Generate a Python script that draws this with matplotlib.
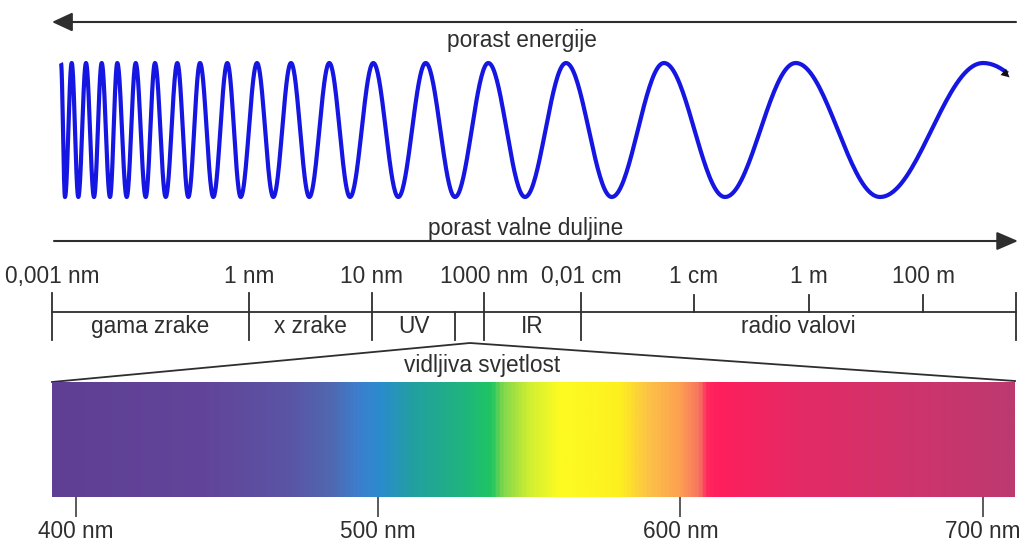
import numpy as np
import matplotlib
matplotlib.use("Agg")
import matplotlib.pyplot as plt
from matplotlib.colors import LinearSegmentedColormap

plt.rcParams['font.family'] = ['Liberation Sans', 'DejaVu Sans']

# texts
energy_label = 'porast energije'
wavelength_label = 'porast valne duljine'
visible_label = 'vidljiva svjetlost'

# schematic wavelength scale (not to scale in the original drawing)
scale_ticks = [52, 249, 372, 484, 581, 694, 809, 923, 1016]
scale_labels = ['0,001 nm', '1 nm', '10 nm', '1000 nm', '0,01 cm', '1 cm', '1 m', '100 m', '']
scale_major = [True, True, True, True, True, False, False, False, True]

band_edges = [52, 249, 372, 455, 484, 581, 1016]
band_names = ['gama zrake', 'x zrake', 'UV', '', 'IR', 'radio valovi']

# x positions of the wave crests/troughs (alternating, starting with a crest)
wave_extrema = [61, 65, 71.7, 78.3, 86, 94, 101.7, 110, 117.3, 126.7, 135.7,
                145.7, 155, 165.7, 177.3, 188.3, 200, 213.3, 227.3, 240.7,
                257, 273.3, 291, 309.3, 329.3, 350, 373.3, 398.3, 425.7, 455,
                488.3, 525, 566, 611.7, 664, 725, 795.7, 880, 983, 1120]
wave_end = 1008

# visible spectrum colour stops (nm -> colour)
spec_nm = [392.2, 441, 471, 484, 494, 500.7, 511.6, 528, 537.7, 541, 550,
           560, 580, 589, 600, 606.5, 609, 612, 639.6, 672.7, 710.6]
spec_colors = ['#5e3f93', '#62449a', '#5a55a5', '#5068b0', '#3a80d0', '#2a8ccc',
               '#22a0a0', '#20b47f', '#1fc662', '#7ed64e', '#d0ef32', '#fdfb22',
               '#fdf01f', '#fdc445', '#fca052', '#f77460', '#ff2a5e', '#ff1f5c',
               '#e42a66', '#d0336b', '#bc3a70']
spec_ticks = [400, 500, 600, 700]

W, H = 1032, 544
ink = '#2e2e2e'
fs = 16.3

fig = plt.figure(figsize=(W / 100, H / 100), dpi=100)
ax = fig.add_axes([0, 0, 1, 1])
ax.set_xlim(0, W)
ax.set_ylim(H, 0)
ax.axis('off')

# energy arrow (points left) and wavelength arrow (points right)
ax.annotate('', xy=(52, 22), xytext=(1016, 22),
            arrowprops=dict(arrowstyle='-|>,head_length=12.5,head_width=5.8',
                            mutation_scale=1, color=ink, lw=1.5,
                            shrinkA=0, shrinkB=0))
ax.text(522, 47.5, energy_label, ha='center', va='baseline', fontsize=fs, color=ink)

ax.annotate('', xy=(1018, 241), xytext=(54, 241),
            arrowprops=dict(arrowstyle='-|>,head_length=13,head_width=5.6',
                            mutation_scale=1, color=ink, lw=1.5,
                            shrinkA=0, shrinkB=0))
ax.text(525.5, 235, wavelength_label, ha='center', va='baseline', fontsize=fs, color=ink)

# chirped wave built from the crest/trough positions
mid, amp = 130, 67
xs, ys = [], []
for i in range(len(wave_extrema) - 1):
    x0, x1 = wave_extrema[i], wave_extrema[i + 1]
    sign = -1 if i % 2 == 0 else 1   # crest = up (smaller y)
    t = np.linspace(0, 1, 40)
    xx = x0 + (x1 - x0) * t
    yy = mid + sign * amp * np.cos(np.pi * t)
    xs.extend(xx)
    ys.extend(yy)
xs = np.array(xs)
ys = np.array(ys)
keep = xs <= wave_end
xs, ys = xs[keep], ys[keep]
ax.plot(xs, ys, color='#1616e2', lw=3.0, solid_capstyle='butt', solid_joinstyle='round')
ax.annotate('', xy=(xs[-1] + 2, ys[-1] + 4), xytext=(xs[-4], ys[-4]),
            arrowprops=dict(arrowstyle='-|>,head_length=6,head_width=3',
                            mutation_scale=1, color='#111111', lw=0,
                            shrinkA=0, shrinkB=0))

# wavelength scale bar
ax.plot([scale_ticks[0], scale_ticks[-1]], [312, 312], color=ink, lw=1.3)
for x, lab, major in zip(scale_ticks, scale_labels, scale_major):
    y0, y1 = (293, 340) if major else (295, 312)
    ax.plot([x, x], [y0, y1], color=ink, lw=1.3)
    if lab:
        ax.text(x, 283, lab, ha='center', va='baseline', fontsize=fs, color=ink)
ax.plot([band_edges[3], band_edges[3]], [312, 340], color=ink, lw=1.3)
for a, b, name in zip(band_edges[:-1], band_edges[1:], band_names):
    if name:
        ax.text((a + b) / 2, 333, name, ha='center', va='baseline', fontsize=fs, color=ink)

# funnel to the visible spectrum
ax.plot([52, 470, 1015], [382, 343, 381], color=ink, lw=1.3)
ax.text(482, 372, visible_label, ha='center', va='baseline', fontsize=fs, color=ink)

# visible spectrum strip
left, right, top, bottom = 52, 1015, 382, 497
sax = fig.add_axes([left / W, 1 - bottom / H, (right - left) / W, (bottom - top) / H])
pos = (np.array(spec_nm) - spec_nm[0]) / (spec_nm[-1] - spec_nm[0])
cmap = LinearSegmentedColormap.from_list('vis', list(zip(pos, spec_colors)))
grad = np.linspace(spec_nm[0], spec_nm[-1], 1200).reshape(1, -1)
sax.imshow(grad, cmap=cmap, aspect='auto',
           extent=[spec_nm[0], spec_nm[-1], 0, 1], interpolation='bilinear')
sax.set_xlim(spec_nm[0], spec_nm[-1])
sax.set_ylim(0, 1)
for s in sax.spines.values():
    s.set_visible(False)
sax.set_yticks([])
sax.set_xticks(spec_ticks)
sax.set_xticklabels([f'{v} nm' for v in spec_ticks])
sax.tick_params(axis='x', direction='out', length=14.4, width=1.1, color=ink,
                labelsize=fs, labelcolor=ink, pad=2)

fig.savefig('out.png', dpi=100)
